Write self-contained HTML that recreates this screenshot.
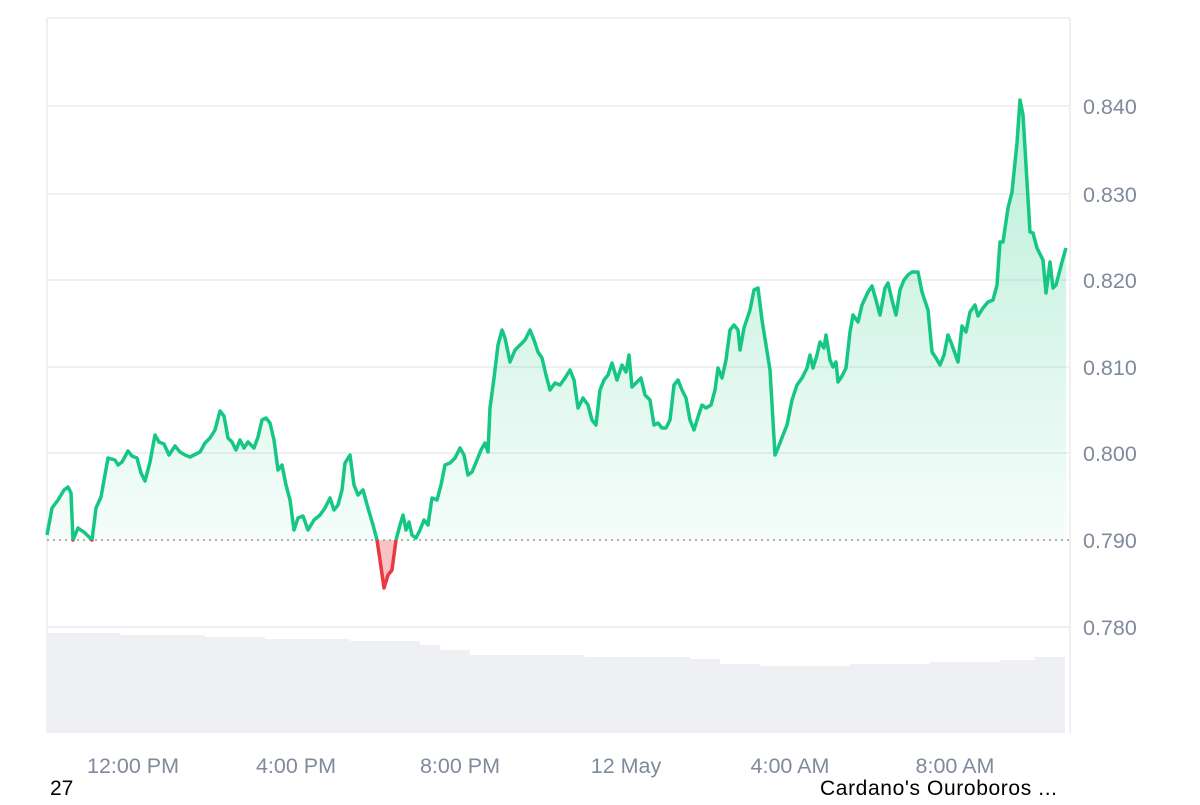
<!DOCTYPE html>
<html><head><meta charset="utf-8"><style>
body{margin:0;background:#fff;width:1200px;height:800px;overflow:hidden;font-family:"Liberation Sans",sans-serif}
</style></head><body>
<svg width="1200" height="800" xmlns="http://www.w3.org/2000/svg" font-family="Liberation Sans, sans-serif">
<defs>
<linearGradient id="g" x1="0" y1="100" x2="0" y2="540" gradientUnits="userSpaceOnUse">
<stop offset="0" stop-color="#16c784" stop-opacity="0.3"/><stop offset="1" stop-color="#16c784" stop-opacity="0.04"/></linearGradient>
<clipPath id="top"><rect x="0" y="0" width="1200" height="540"/></clipPath>
<clipPath id="bot"><rect x="0" y="540" width="1200" height="200"/></clipPath>
</defs>
<g stroke="#eff0f2" stroke-width="2">
<line x1="47" y1="18" x2="1070" y2="18"/><line x1="47" y1="18" x2="47" y2="733"/><line x1="1070" y1="18" x2="1070" y2="733"/>
<line x1="47" y1="106" x2="1070" y2="106"/><line x1="47" y1="194" x2="1070" y2="194"/><line x1="47" y1="280" x2="1070" y2="280"/>
<line x1="47" y1="367" x2="1070" y2="367"/><line x1="47" y1="453" x2="1070" y2="453"/><line x1="47" y1="627" x2="1070" y2="627"/>
</g>
<polygon fill="#eef0f3" points="47,633 120,633 120,635 205,635 205,637 265,637 265,639 350,639 350,641 420,641 420,645 440,645 440,650 470,650 470,655 585,655 585,657 690,657 690,659 720,659 720,664 760,664 760,666 850,666 850,664 930,664 930,662 1000,662 1000,660 1035,660 1035,657 1065,657 1065,733 47,733"/>
<g id="area"></g>
<line x1="47" y1="540" x2="1070" y2="540" stroke="#999" stroke-width="1.5" stroke-dasharray="2,4"/>
<g id="lines"></g>
<g fill="#808a9d" font-size="21.5">
<text x="1083" y="114">0.840</text><text x="1083" y="202">0.830</text><text x="1083" y="288">0.820</text>
<text x="1083" y="375">0.810</text><text x="1083" y="461">0.800</text><text x="1083" y="548">0.790</text><text x="1083" y="635">0.780</text>
<g text-anchor="middle"><text x="133" y="773">12:00 PM</text><text x="296" y="773">4:00 PM</text><text x="460" y="773">8:00 PM</text>
<text x="626" y="773">12 May</text><text x="790" y="773">4:00 AM</text><text x="955" y="773">8:00 AM</text></g>
</g>
<text x="50" y="795" font-size="21" fill="#000">27</text>
<text x="820" y="795" font-size="21" fill="#000" textLength="237">Cardano's Ouroboros ...</text>
</svg>
<script>
var p="47,535 52,508 58,500 64,490 68,487 71,493 73,540 78,528 85,533 92,540 96,508 101,497 108,458 115,460 118,465 122,462 128,451 132,456 137,458 141,473 145,481 150,462 155,435 159,442 164,444 169,455 175,446 180,452 185,455 190,457 196,454 200,452 205,443 210,438 215,430 220,411 224,416 228,438 232,442 236,450 240,440 244,448 248,442 254,448 258,437 262,420 266,418 270,423 274,440 278,470 282,465 286,485 290,500 294,530 298,518 303,516 308,530 314,520 320,515 325,508 330,498 334,510 338,505 342,490 345,463 350,455 354,485 358,495 363,490 368,508 373,525 377,540 380,560 384,588 388,575 392,570 396,540 400,525 403,515 406,530 409,522 412,535 416,538 420,530 424,520 428,525 432,498 437,500 441,485 445,465 450,463 455,458 460,448 464,455 468,475 472,472 477,460 481,450 485,443 488,452 490,408 494,378 498,345 502,330 505,338 510,362 515,350 520,345 525,340 530,330 534,340 538,352 542,358 546,375 550,390 555,383 560,385 565,378 570,370 574,380 578,408 583,398 588,405 592,420 596,425 600,390 604,380 608,375 612,363 617,380 622,365 626,372 629,355 632,387 637,382 641,378 645,395 650,400 654,425 658,423 662,428 666,428 670,420 674,385 678,380 682,390 686,398 690,420 694,430 698,417 702,405 706,408 711,405 715,390 718,368 722,378 726,360 730,330 734,325 738,330 740,350 744,328 750,310 754,290 758,288 762,320 766,345 770,370 775,455 778,448 783,435 787,425 792,400 797,385 802,378 807,368 810,355 813,368 817,355 820,342 824,348 826,335 830,360 833,367 836,362 838,382 842,376 846,368 850,332 853,315 858,322 862,305 868,292 872,286 876,300 880,315 885,288 888,283 892,300 896,315 900,290 904,280 908,275 912,272 918,272 922,292 928,310 932,352 936,358 940,365 944,355 948,335 952,345 958,362 962,326 966,332 970,312 975,305 978,316 983,308 988,302 993,300 997,285 1000,242 1003,242 1008,208 1012,192 1017,143 1020,100 1023,115 1030,232 1033,233 1037,248 1043,260 1046,293 1050,262 1053,288 1056,285 1062,262 1066,248";
var NS="http://www.w3.org/2000/svg";
var a=document.getElementById('area');
function mk(t,at){var e=document.createElementNS(NS,t);for(var k in at)e.setAttribute(k,at[k]);return e;}
var poly=p+" 1066,540 47,540";
a.appendChild(mk('polygon',{points:poly,fill:'url(#g)','clip-path':'url(#top)'}));
a.appendChild(mk('polygon',{points:poly,fill:'#ea3943','fill-opacity':'0.3','clip-path':'url(#bot)'}));
var l=document.getElementById('lines');
l.appendChild(mk('polyline',{points:p,fill:'none',stroke:'#16c784','stroke-width':3.5,'stroke-linejoin':'round','clip-path':'url(#top)'}));
l.appendChild(mk('polyline',{points:p,fill:'none',stroke:'#ea3943','stroke-width':3.5,'stroke-linejoin':'round','clip-path':'url(#bot)'}));
</script>
</body></html>
